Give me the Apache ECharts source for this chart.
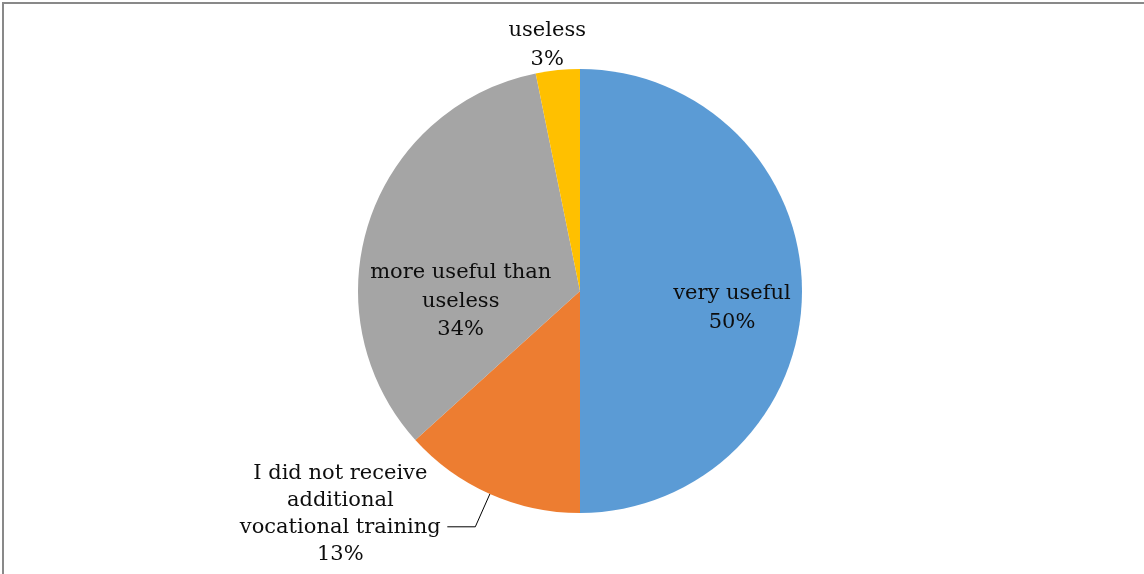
<!DOCTYPE html>
<html>
<head>
<meta charset="utf-8">
<script src="https://cdn.jsdelivr.net/npm/echarts@6/dist/echarts.min.js"></script>
<style>
  html, body { margin: 0; padding: 0; background: #fff; }
  #chart { width: 1144px; height: 574px; }
</style>
</head>
<body>
<div id="chart"></div>
<script>
var categories = ['very useful', 'I did not receive additional vocational training', 'more useful than useless', 'useless'];
var labelText = ['very useful', 'I did not receive\nadditional\nvocational training', 'more useful than\nuseless', 'useless'];
var shares = [50, 13.3, 33.5, 3.2];
var colors = ['#5B9BD5', '#ED7D31', '#A5A5A5', '#FFC000'];

var myChart = echarts.init(document.getElementById('chart'));

var data = categories.map(function (name, i) {
    var item = { name: name, value: shares[i], itemStyle: { color: colors[i] } };
    if (i == 1) {
        item.label = {
            position: 'outside',
            padding: [0, 0, 26, 0],
            formatter: function (p) {
                var lines = labelText[p.dataIndex].split('\n').concat([Math.round(p.value) + '%']);
                return lines.map(function (l) { return '{c|' + l + '}'; }).join('\n');
            }
        };
        item.labelLine = { show: true, length: 36, length2: 28, lineStyle: { color: '#000', width: 1 } };
    } else if (i == 3) {
        item.label = { position: 'outside' };
        item.labelLine = { show: false, length: 5, length2: 0 };
    }
    return item;
});

var option = {
    backgroundColor: '#fff',
    animation: false,
    graphic: [{
        type: 'rect',
        shape: { x: 3, y: 3, width: 2000, height: 2000 },
        style: { fill: 'none', stroke: '#898989', lineWidth: 2 }
    }],
    series: [{
        type: 'pie',
        center: [580, 291],
        radius: 222,
        startAngle: 90,
        clockwise: true,
        avoidLabelOverlap: false,
        label: {
            show: true,
            position: 'inside',
            fontFamily: 'DejaVu Serif',
            fontSize: 21,
            lineHeight: 28.5,
            color: '#0d0d0d',
            formatter: function (p) {
                return labelText[p.dataIndex] + '\n' + Math.round(p.value) + '%';
            },
            rich: {
                c: { width: 204, align: 'center', fontFamily: 'DejaVu Serif', fontSize: 21, lineHeight: 27, color: '#0d0d0d' }
            }
        },
        labelLayout: function (p) {
            if (p.dataIndex == 0) return { dx: 38, dy: 17 };
            if (p.dataIndex == 2) return { dx: -11, dy: 46 };
            if (p.dataIndex == 3) return { align: 'center', dx: -5, dy: -20 };
            return {};
        },
        data: data
    }]
};
myChart.setOption(option);
</script>
</body>
</html>
